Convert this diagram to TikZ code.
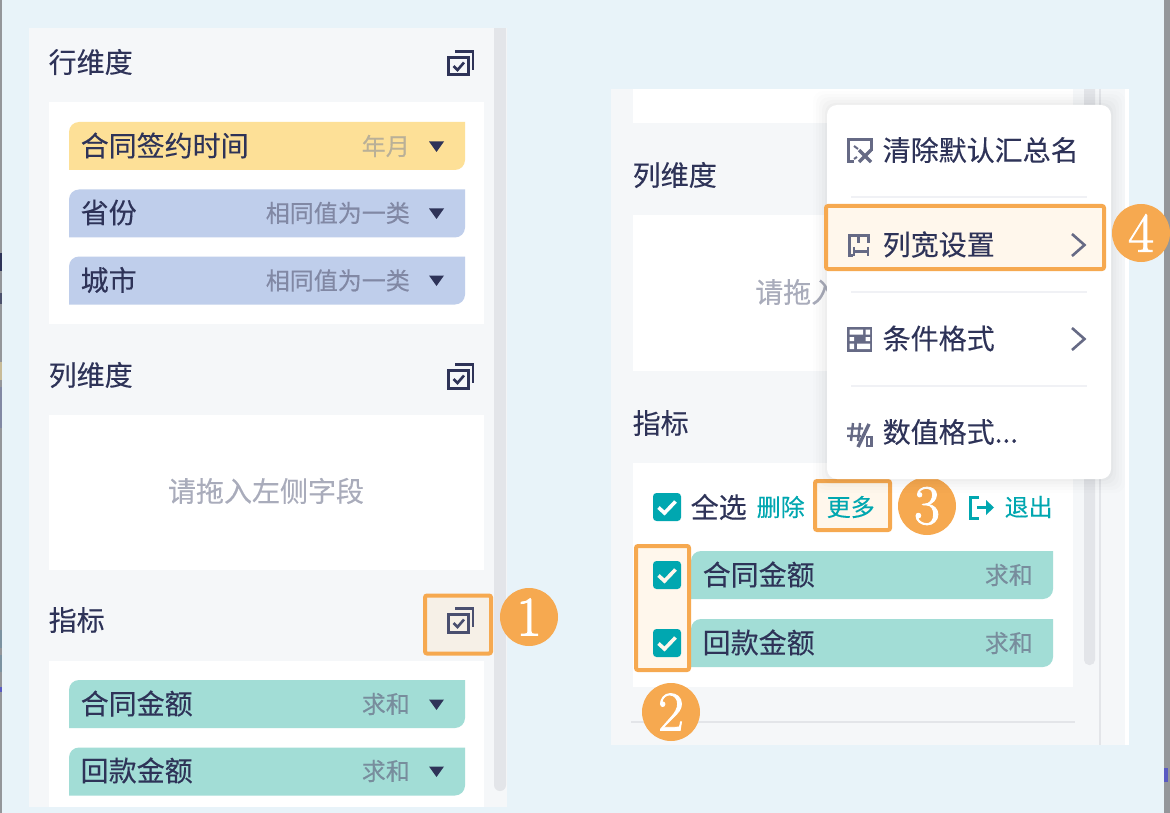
\documentclass[tikz,border=0pt]{standalone}
\usepackage{fontspec}
\setmainfont[FakeBold=0.25]{Noto Sans CJK SC}
\newfontfamily\digitfont[FakeBold=1.6]{Latin Modern Roman}
\usetikzlibrary{calc}
\definecolor{bgblue}{HTML}{E8F3F9}
\definecolor{panelgrey}{HTML}{F5F7F9}
\definecolor{scrollgrey}{HTML}{E3E5E9}
\definecolor{inkblue}{HTML}{2E3358}
\definecolor{iconblue}{HTML}{666A85}
\definecolor{yellowpill}{HTML}{FDE097}
\definecolor{bluepill}{HTML}{BFCEEB}
\definecolor{greenpill}{HTML}{A2DDD6}
\definecolor{hlorange}{HTML}{F6A950}
\definecolor{hlcream}{HTML}{FFF7EC}
\definecolor{hlcreamb}{HTML}{F6F0E7}
\definecolor{tealc}{HTML}{00A7B0}
\definecolor{seplc}{HTML}{F0F1F5}
\definecolor{emptytxt}{HTML}{A9ACBB}
\definecolor{stripgrey}{HTML}{94969A}
\tikzset{
  x=1pt,y=-1pt,
  txt/.style={inner sep=0pt,text=inkblue,font=\fontsize{28}{28}\selectfont},
  lefttxt/.style={txt,anchor=west},
  subtxt/.style={inner sep=0pt,anchor=east,font=\fontsize{24}{24}\selectfont},
  linktxt/.style={inner sep=0pt,anchor=west,text=tealc,font=\fontsize{24}{24}\selectfont},
  hlbox/.style={draw=hlorange,line width=4pt,rounded corners=2pt,fill=hlcream,inner sep=0pt},
  badge/.style={circle,fill=hlorange,minimum size=58pt,inner sep=0pt,text=white,font=\digitfont\fontsize{56}{56}\selectfont},
  icon/.style={draw=inkblue,line width=3pt},
  menuicon/.style={draw=iconblue,line width=3pt},
  sepline/.style={draw=seplc,line width=2pt},
}
% pill: name, left, top, right, colour
\newcommand{\pill}[5]{%
  \fill[#5] (#2,#3+48) -- (#2,#3+10) .. controls (#2,#3+4.5) and (#2+4.5,#3) .. (#2+10,#3)
     -- (#4,#3) -- (#4,#3+38) .. controls (#4,#3+43.5) and (#4-4.5,#3+48) .. (#4-10,#3+48) -- cycle;
  \coordinate (#1) at (#2,#3+24);}
\newcommand{\stackicon}[3][inkblue]{%
  \begin{scope}[shift={(#2,#3)}]
  \draw[icon,draw=#1] (1.5,7.5) rectangle (21.5,25);
  \draw[icon,draw=#1,line width=2.4pt] (8,1.5) -- (26,1.5) -- (26,20);
  \draw[icon,draw=#1,line width=2.6pt] (6.5,16) -- (10.5,20) -- (17,12.5);
  \end{scope}}
\newcommand{\tri}[2]{\fill[inkblue] (#1-7.5,#2-5) -- (#1+7.5,#2-5) -- (#1,#2+5.5) -- cycle;}
\newcommand{\cbox}[3][white]{%
  \fill[tealc,rounded corners=3.5pt] (#2-14,#3-14) rectangle (#2+14,#3+14);
  \draw[#1,line width=3.6pt] (#2-8.5,#3+0.5) -- (#2-2.5,#3+6) -- (#2+8.5,#3-5.5);}
\newcommand{\chev}[2]{\draw[iconblue,line width=2.6pt] (#1-6,#2-11) -- (#1+6.5,#2) -- (#1-6,#2+11);}
\begin{document}
\begin{tikzpicture}
\useasboundingbox (0,0) rectangle (1170,813);
\fill[bgblue] (0,0) rectangle (1170,813);
\fill[stripgrey] (0,0) rectangle (2,813);
\fill[stripgrey] (1164,0) rectangle (1170,813);
% slivers of the page behind, at the two edges
\fill[inkblue] (0,253) rectangle (2,271);
\fill[inkblue!70!stripgrey] (0,293) rectangle (2,304);
\fill[yellowpill!50!stripgrey] (0,362) rectangle (2,380);
\fill[bluepill!30!iconblue] (0,387) rectangle (2,428);
\fill[greenpill!35!iconblue] (0,630) rectangle (2,648);
\fill[greenpill!35!iconblue] (0,655) rectangle (2,672);
\fill[blue!40!stripgrey] (0,687) rectangle (2,692);
\fill[blue!40!stripgrey] (1164,768) rectangle (1168,782);
% ---------- left panel
\fill[panelgrey] (29,28) rectangle (507,807);
\fill[scrollgrey,rounded corners=6pt] (494,10) rectangle (506,791);
\fill[bgblue] (490,0) rectangle (510,28);
\fill[white] (49,102) rectangle (484,324);
\fill[white] (49,415) rectangle (484,570);
\fill[white] (49,661) rectangle (484,807);
\node[lefttxt] (lrow) at (48.5,62) {行维度};
\stackicon{447}{50}
\pill{p1}{69}{122}{465}{yellowpill}
\node[lefttxt] (p1t) at (80.5,145.5) {合同签约时间};
\node[subtxt,text=yellowpill!55!black!60!white] (p1s) at (410,146) {年月};
\tri{436.5}{146.5}
\pill{p2}{69}{189.5}{465}{bluepill}
\node[lefttxt] (p2t) at (80.5,212.5) {省份};
\node[subtxt,text=iconblue!70!bluepill] (p2s) at (410,213) {相同值为一类};
\tri{436.5}{213.5}
\pill{p3}{69}{256.5}{465}{bluepill}
\node[lefttxt] (p3t) at (80.5,280) {城市};
\node[subtxt,text=iconblue!70!bluepill] (p3s) at (410,280.5) {相同值为一类};
\tri{436.5}{280.5}
\node[lefttxt] (lcol) at (48.5,375) {列维度};
\stackicon{447}{363}
\node[txt,text=emptytxt] (lempty) at (266,491) {请拖入左侧字段};
\node[lefttxt] (lind) at (48.5,620) {指标};
\node[hlbox,fill=hlcreamb,minimum width=66pt,minimum height=58pt] (h1) at (458,624.5) {};
\stackicon[iconblue!50!inkblue]{447}{607}
\pill{p4}{69}{680}{465}{greenpill}
\node[lefttxt] (p4t) at (80.5,703.5) {合同金额};
\node[subtxt,text=iconblue!70!greenpill] (p4s) at (410,704) {求和};
\tri{436.5}{704.5}
\pill{p5}{69}{747.5}{465}{greenpill}
\node[lefttxt] (p5t) at (80.5,770.5) {回款金额};
\node[subtxt,text=iconblue!70!greenpill] (p5s) at (410,771) {求和};
\tri{436.5}{771.5}
\node[badge] (b1) at (529,617) {1};
% ---------- right panel
\fill[white] (1120,89) rectangle (1129,745);
\fill[panelgrey] (611,89) rectangle (1125,745);
\fill[white] (633,89) rectangle (1073,123);
\fill[scrollgrey,rounded corners=5pt] (1084,80) rectangle (1095,665);
\fill[bgblue] (1080,60) rectangle (1100,89);
\draw[scrollgrey,line width=2pt] (1100,89) -- (1100,745);
\node[lefttxt] (rcol) at (632.5,175) {列维度};
\fill[white] (633,215) rectangle (1073,371);
\node[lefttxt,text=emptytxt] (rempty) at (755,292) {请拖入};
\node[lefttxt] (rind) at (632.5,423) {指标};
\fill[white] (633,463) rectangle (1073,687);
\draw[scrollgrey,line width=2pt] (631,722) -- (1075,722);
\cbox{667}{507}
\node[lefttxt] (all) at (690.5,507) {全选};
\node[linktxt] (del) at (756.5,507) {删除};
\node[hlbox,minimum width=75pt,minimum height=49pt] (h3) at (852.5,505.5) {};
\node[linktxt] (more) at (826.5,507) {更多};
\draw[tealc,line width=3pt] (979,497) -- (970,497) -- (970,518) -- (979,518);
\draw[tealc,line width=3pt] (977,507.5) -- (990,507.5);
\fill[tealc] (986,500) -- (994,507.5) -- (986,515) -- cycle;
\node[linktxt] (quit) at (1004.5,507) {退出};
\pill{p6}{691}{551}{1053}{greenpill}
\node[lefttxt] (p6t) at (702.5,574.5) {合同金额};
\node[subtxt,text=iconblue!70!greenpill] (p6s) at (1033,575) {求和};
\pill{p7}{691}{619}{1053}{greenpill}
\node[lefttxt] (p7t) at (702.5,642.5) {回款金额};
\node[subtxt,text=iconblue!70!greenpill] (p7s) at (1033,643) {求和};
\node[hlbox,minimum width=53pt,minimum height=124pt] (h2) at (662.5,608) {};
\cbox[hlcream]{667}{575}
\cbox[hlcream]{667}{643}
\node[badge] (b2) at (671,712) {2};
\node[badge] (b3) at (927,506) {3};
% ---------- menu
\foreach \d/\o in {14/.008,11/.01,8/.012,5/.015,2/.02}
  \fill[black,opacity=\o,rounded corners=10pt] (827-\d,105-\d) rectangle (1111+\d,479+\d);
\fill[white,rounded corners=10pt] (827,105) rectangle (1111,479);
\node[lefttxt] (m1) at (882.5,150) {清除默认汇总名};
\draw[sepline] (851,197.5) -- (1087,197.5);
\node[hlbox,minimum width=278pt,minimum height=63pt] (h4) at (965,237.5) {};
\node[lefttxt] (m2) at (882.5,244.5) {列宽设置};
\chev{1078}{245}
\draw[sepline] (851,291.5) -- (1087,291.5);
\node[lefttxt] (m3) at (882.5,338.5) {条件格式};
\chev{1078}{339}
\draw[sepline] (851,385.5) -- (1087,385.5);
\node[lefttxt] (m4) at (882.5,432) {数值格式...};
% menu icons
\draw[menuicon] (871,151) -- (871,139.5) -- (848.5,139.5) -- (848.5,162) -- (854,162);
\draw[menuicon,line width=2pt] (854,146) -- (858,149);
\draw[menuicon,line width=2pt] (857,157) -- (854,159);
\draw[menuicon,line width=3.4pt] (859,150) -- (871,162) (871,150) -- (859,162);
\draw[menuicon] (854,235.5) -- (849,235.5) -- (849,255) -- (853,255);
\draw[menuicon] (854,235.5) -- (868,235.5) -- (868,243);
\draw[menuicon] (858.5,235.5) -- (858.5,243);
\draw[menuicon,line width=2.2pt] (854,247) -- (854,256) (868,247) -- (868,256) (854,251.5) -- (868,251.5);
\fill[iconblue] (847,327) rectangle (872,352);
\fill[white] (849.5,329.5) rectangle (863,334.5) (865.5,329.5) rectangle (870,334.5)
  (849.5,337) rectangle (854,341) (865.5,337) rectangle (870,341)
  (849.5,343.5) rectangle (854,349) (857,343.5) rectangle (870,349);
\draw[iconblue,line width=2.4pt] (853,423) -- (851,441) (860,423) -- (858,441) (847,428.5) -- (863,428.5) (847,436) -- (861,436);
\draw[iconblue,line width=3.4pt] (869,424) -- (858,447);
\draw[iconblue,line width=2.2pt] (867,437) rectangle (871.5,446);
\node[badge] (b4) at (1141,233) {4};
\end{tikzpicture}
\end{document}
